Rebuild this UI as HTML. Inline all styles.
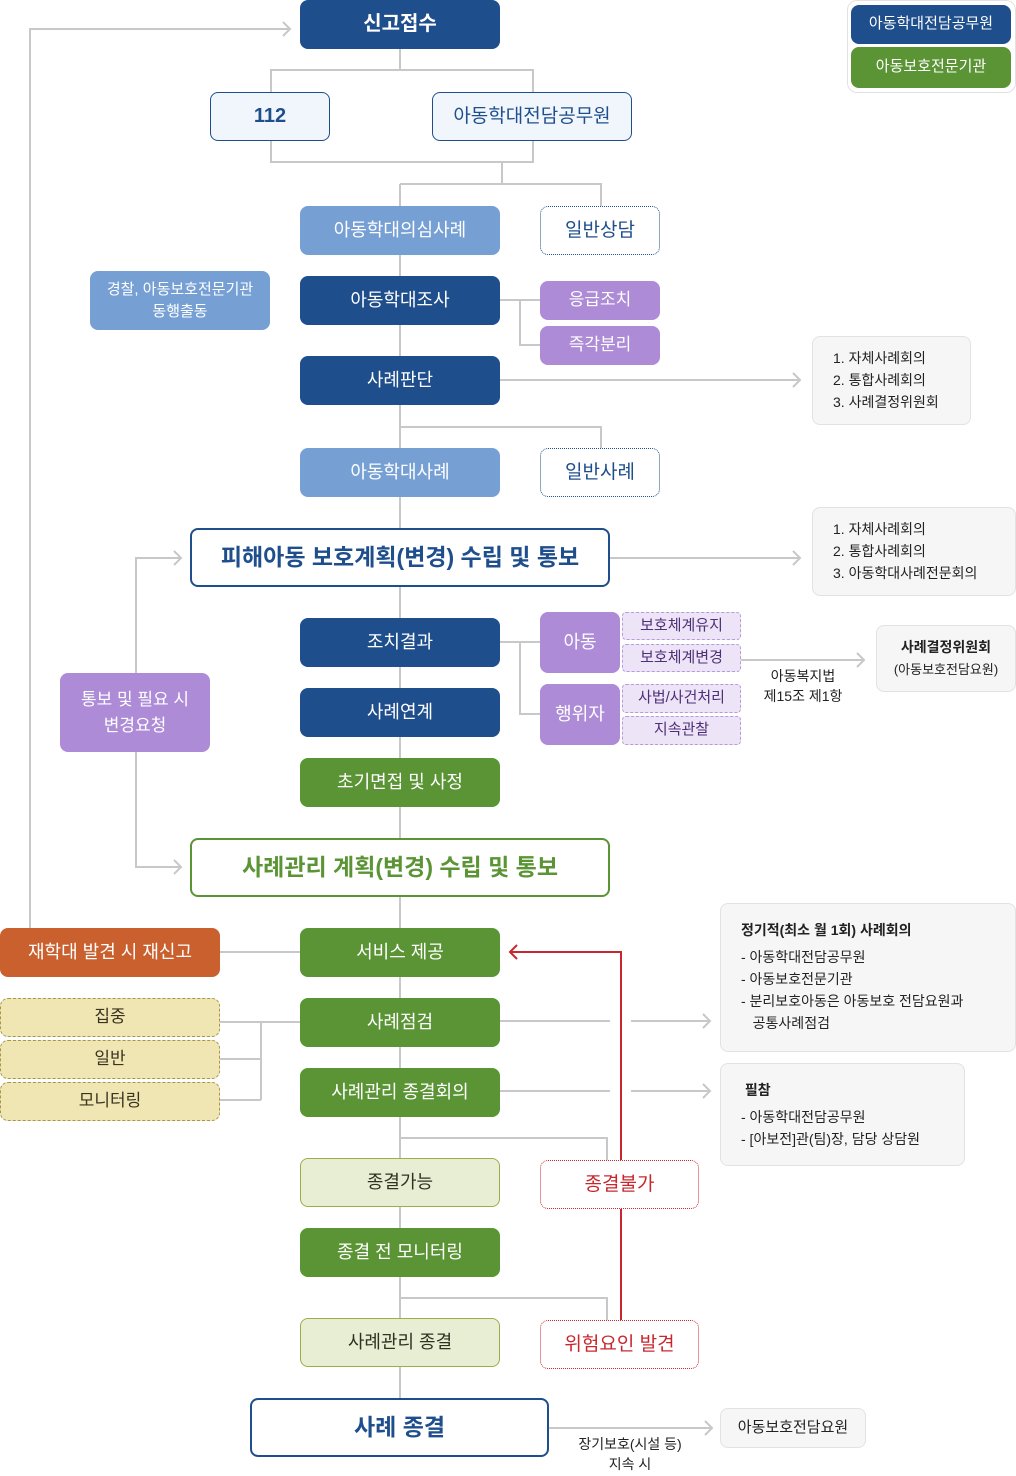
<!DOCTYPE html>
<html><head><meta charset="utf-8">
<style>
*{margin:0;padding:0;box-sizing:border-box}
body{width:1016px;height:1476px;background:#fff;position:relative;overflow:hidden;font-family:"Liberation Sans","Noto Sans CJK KR",sans-serif}
.b{position:absolute;display:flex;align-items:center;justify-content:center;text-align:center;border-radius:8px;font-size:18px;line-height:1.35}
.db{background:#1e4e8c;color:#fff}
.lb{background:#76a0d4;color:#fff}
.pu{background:#ad8bd6;color:#fff}
.gr{background:#5a9434;color:#fff}
.or{background:#c9602e;color:#fff}
.out{background:#f1f6fd;border:1.5px solid #1e4e8c;color:#1e4e8c;font-size:20px}
.dot{background:#fff;border:1.5px dotted #1e4e8c;color:#1e4e8c;font-size:19px}
.sp{background:#ede4f7;border:1px dashed #b89ad8;color:#4e2f78;font-size:15px;border-radius:4px}
.ye{background:#f0e6b4;border:1px dashed #a8964a;color:#3a3320;font-size:17px}
.lg{background:#e8eed4;border:1.5px solid #9aae4a;color:#2e3320}
.rd{background:#fff;border:1.5px dotted #c8282d;color:#c8282d;font-size:19px}
.note{position:absolute;background:#f6f6f6;border:1px solid #e2e2e2;border-radius:8px;font-size:14px;color:#222;line-height:22px}
.big{background:#fff;border:2px solid #1e4e8c;color:#1e4e8c;font-size:23px;font-weight:bold}
.t{position:absolute;font-size:14px;color:#222;text-align:center;line-height:20px}
</style></head><body>
<svg width="1016" height="1476" style="position:absolute;left:0;top:0" fill="none" stroke="#c8c8c8" stroke-width="2">
<path d="M400 49V70M400 184V1400"/>
<path d="M30 928V29H290M283 22l7 7-7 7"/>
<path d="M271 92V70H533V92M271 141V162H533V141M502 162V184M400 184H601V206"/>
<path d="M500 300H540M520 300V345H540"/>
<path d="M500 380H800M793 373l7 7-7 7"/>
<path d="M400 427H601V448"/>
<path d="M609 558H800M793 551l7 7-7 7"/>
<path d="M136 673V558H181M174 551l7 7-7 7M136 752V867H181M174 860l7 7-7 7"/>
<path d="M500 642H540M520 642V714H540"/>
<path d="M741 660H864M857 653l7 7-7 7"/>
<path d="M220 952H300"/>
<path d="M220 1022H300M220 1059H261M220 1100H261M261 1022V1100"/>
<path d="M500 1021H610M631 1021H710M703 1014l7 7-7 7"/>
<path d="M500 1091H610M631 1091H710M703 1084l7 7-7 7"/>
<path d="M400 1138H607V1160M400 1298H607V1320"/>
<path d="M549 1428H712M705 1421l7 7-7 7"/>
<path d="M621 1160V952H510M517 945l-7 7 7 7M621 1209V1320" stroke="#c8282d"/>
</svg>

<div class="b" style="left:847px;top:0;width:169px;height:93px;border:1px solid #e2e2e2;border-radius:10px"></div>
<div class="b db" style="left:851px;top:5px;width:160px;height:39px;font-size:15px">아동학대전담공무원</div>
<div class="b gr" style="left:851px;top:47px;width:160px;height:41px;font-size:15px">아동보호전문기관</div>

<div class="b db" style="left:300px;top:0;width:200px;height:49px;font-size:20px;font-weight:bold">신고접수</div>
<div class="b out" style="left:210px;top:92px;width:120px;height:49px;font-weight:bold">112</div>
<div class="b out" style="left:432px;top:92px;width:200px;height:49px;font-size:19px">아동학대전담공무원</div>
<div class="b lb" style="left:300px;top:206px;width:200px;height:49px">아동학대의심사례</div>
<div class="b dot" style="left:540px;top:206px;width:120px;height:49px">일반상담</div>
<div class="b lb" style="left:90px;top:271px;width:180px;height:59px;font-size:15px;line-height:22px">경찰, 아동보호전문기관<br>동행출동</div>
<div class="b db" style="left:300px;top:276px;width:200px;height:49px">아동학대조사</div>
<div class="b pu" style="left:540px;top:281px;width:120px;height:39px;font-size:17px">응급조치</div>
<div class="b pu" style="left:540px;top:326px;width:120px;height:39px;font-size:17px">즉각분리</div>
<div class="b db" style="left:300px;top:356px;width:200px;height:49px">사례판단</div>
<div class="note" style="left:812px;top:336px;width:159px;height:89px;padding:10px 0 0 20px">1. 자체사례회의<br>2. 통합사례회의<br>3. 사례결정위원회</div>
<div class="b lb" style="left:300px;top:448px;width:200px;height:49px">아동학대사례</div>
<div class="b dot" style="left:540px;top:448px;width:120px;height:49px">일반사례</div>
<div class="b big" style="left:190px;top:528px;width:420px;height:59px">피해아동 보호계획(변경) 수립 및 통보</div>
<div class="note" style="left:812px;top:507px;width:204px;height:89px;padding:10px 0 0 20px">1. 자체사례회의<br>2. 통합사례회의<br>3. 아동학대사례전문회의</div>
<div class="b pu" style="left:60px;top:673px;width:150px;height:79px;font-size:17px;line-height:26px">통보 및 필요 시<br>변경요청</div>
<div class="b db" style="left:300px;top:618px;width:200px;height:49px">조치결과</div>
<div class="b db" style="left:300px;top:688px;width:200px;height:49px">사례연계</div>
<div class="b gr" style="left:300px;top:758px;width:200px;height:49px">초기면접 및 사정</div>
<div class="b pu" style="left:540px;top:612px;width:80px;height:61px">아동</div>
<div class="b pu" style="left:540px;top:684px;width:80px;height:61px">행위자</div>
<div class="b sp" style="left:622px;top:612px;width:119px;height:28px">보호체계유지</div>
<div class="b sp" style="left:622px;top:644px;width:119px;height:28px">보호체계변경</div>
<div class="b sp" style="left:622px;top:684px;width:119px;height:29px">사법/사건처리</div>
<div class="b sp" style="left:622px;top:716px;width:119px;height:29px">지속관찰</div>
<div class="t" style="left:748px;top:666px;width:110px">아동복지법<br>제15조 제1항</div>
<div class="note" style="left:876px;top:625px;width:140px;height:67px;text-align:center;padding-top:10px"><b>사례결정위원회</b><br><span style="font-size:13px">(아동보호전담요원)</span></div>
<div class="b big" style="left:190px;top:838px;width:420px;height:59px;border-color:#5a9434;color:#5a9434">사례관리 계획(변경) 수립 및 통보</div>
<div class="b or" style="left:0;top:928px;width:220px;height:49px">재학대 발견 시 재신고</div>
<div class="b gr" style="left:300px;top:928px;width:200px;height:49px">서비스 제공</div>
<div class="b gr" style="left:300px;top:998px;width:200px;height:49px">사례점검</div>
<div class="b gr" style="left:300px;top:1068px;width:200px;height:49px">사례관리 종결회의</div>
<div class="b ye" style="left:0;top:998px;width:220px;height:39px">집중</div>
<div class="b ye" style="left:0;top:1040px;width:220px;height:39px">일반</div>
<div class="b ye" style="left:0;top:1082px;width:220px;height:39px">모니터링</div>
<div class="note" style="left:720px;top:903px;width:296px;height:149px;padding:15px 0 0 20px"><b>정기적(최소 월 1회) 사례회의</b><div style="margin-top:5px">- 아동학대전담공무원<br>- 아동보호전문기관<br>- 분리보호아동은 아동보호 전담요원과<br>&nbsp;&nbsp;&nbsp;공통사례점검</div></div>
<div class="note" style="left:720px;top:1063px;width:245px;height:103px;padding:15px 0 0 20px"><b>&nbsp;필참</b><div style="margin-top:5px">- 아동학대전담공무원<br>- [아보전]관(팀)장, 담당 상담원</div></div>
<div class="b lg" style="left:300px;top:1158px;width:200px;height:49px">종결가능</div>
<div class="b rd" style="left:540px;top:1160px;width:159px;height:49px">종결불가</div>
<div class="b gr" style="left:300px;top:1228px;width:200px;height:49px">종결 전 모니터링</div>
<div class="b lg" style="left:300px;top:1318px;width:200px;height:49px">사례관리 종결</div>
<div class="b rd" style="left:540px;top:1320px;width:159px;height:49px">위험요인 발견</div>
<div class="b big" style="left:250px;top:1398px;width:299px;height:59px">사례 종결</div>
<div class="t" style="left:560px;top:1434px;width:140px">장기보호(시설 등)<br>지속 시</div>
<div class="note" style="left:720px;top:1408px;width:146px;height:40px;font-size:15px;display:flex;align-items:center;justify-content:center">아동보호전담요원</div>
</body></html>
